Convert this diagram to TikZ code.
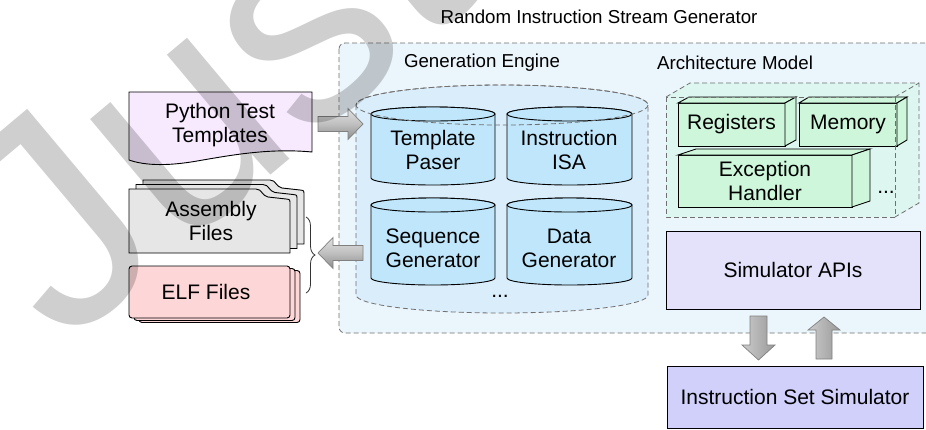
\documentclass[tikz,border=0pt]{standalone}
\usepackage{fontspec}
\setmainfont{Liberation Sans}
\usetikzlibrary{decorations.pathreplacing}
\definecolor{outerbg}{HTML}{EBF5FC}
\definecolor{genbg}{HTML}{DAEDFB}
\definecolor{cylcol}{HTML}{BFE6FA}
\definecolor{archbg}{HTML}{DDF6F0}
\definecolor{boxgreen}{HTML}{CDF6DA}
\definecolor{apifill}{HTML}{E4E2FA}
\definecolor{issfill}{HTML}{D0D0FB}
\definecolor{pyfill}{HTML}{F7EAFE}
\definecolor{asmfill}{HTML}{E6E6E6}
\definecolor{elffill}{HTML}{FDD6D7}
\definecolor{dashgray}{HTML}{707070}
\tikzset{
 lbl/.style={font=\fontsize{21}{24}\selectfont, align=center, inner sep=0pt},
 hdr/.style={font=\fontsize{18.7}{22}\selectfont, inner sep=0pt},
 solidbox/.style={draw=black, line width=0.9pt},
 dashbox/.style={draw=dashgray, dash pattern=on 5pt off 3pt, line width=0.8pt},
 cylsmall/.style={draw=black, line width=0.9pt, fill=cylcol},
 greenbox/.style={draw=black, line width=0.9pt, fill=boxgreen},
 harrow/.style={draw=black!50, line width=0.7pt, top color=black!12, bottom color=black!45, middle color=black!25},
 varrow/.style={draw=black!50, line width=0.7pt, left color=black!20, right color=black!40},
}
% cylinder: x1, x2, ytop, ybottom, ry, style
\newcommand\mycyl[6]{%
  \pgfmathsetmacro\cylcx{(#1+#2)/2}%
  \pgfmathsetmacro\cylrx{(#2-#1)/2}%
  \path[#6] (#1,#3+#5) -- (#1,#4-#5) arc[start angle=180,end angle=0,x radius=\cylrx,y radius=#5]
     -- (#2,#3+#5) arc[start angle=0,end angle=-180,x radius=\cylrx,y radius=#5] -- cycle;
  \path[#6] (\cylcx,#3+#5) ellipse[x radius=\cylrx,y radius=#5];
}
% 3d box: x1,y1,x2,y2,dx,dy,style
\newcommand\mybox[7]{%
  \path[#7] (#1,#2) rectangle (#3,#4);
  \path[#7] (#1,#2) -- (#1+#5,#2-#6) -- (#3+#5,#2-#6) -- (#3,#2) -- cycle;
  \path[#7] (#3,#2) -- (#3+#5,#2-#6) -- (#3+#5,#4-#6) -- (#3,#4) -- cycle;
}
\begin{document}
\begin{tikzpicture}[x=1pt,y=-1pt]
\useasboundingbox (0,0) rectangle (926,429);
\fill[white] (0,0) rectangle (926,429);

% outer container
\path[dashbox, fill=outerbg, rounded corners=6pt] (339,43) rectangle (945,333);
\node[hdr] (title) at (599,17) {Random Instruction Stream Generator};
\node[hdr] (genlbl) at (482,63) {Generation Engine};
\node[hdr] (archlbl) at (735,63) {Architecture Model};

% generation engine big cylinder
\path[dashbox, fill=genbg] (356,105) -- (356,295) arc[start angle=180,end angle=0,x radius=146,y radius=18]
   -- (648,105) arc[start angle=0,end angle=-180,x radius=146,y radius=20] -- cycle;

\mycyl{371}{495}{107}{185}{7}{cylsmall}
\mycyl{507}{632}{107}{185}{7}{cylsmall}
\mycyl{371}{495}{198}{285}{7}{cylsmall}
\mycyl{507}{632}{198}{285}{7}{cylsmall}
\path[dashbox] (502,105) ellipse[x radius=146,y radius=20];

\node[lbl] (tp) at (433,150) {Template\\Paser};
\node[lbl] (isa) at (569,150) {Instruction\\ISA};
\node[lbl] (seq) at (433,248) {Sequence\\Generator};
\node[lbl] (dat) at (569,248) {Data\\Generator};
\node[lbl, anchor=base] (gdots) at (500,297) {...};

% architecture model
\path[fill=archbg] (666,97) -- (690,83) -- (919,83) -- (919,203) -- (895,217) -- (666,217) -- cycle;
\mybox{678}{103}{785}{146}{11}{6}{greenbox}
\mybox{799}{103}{897}{146}{10}{6}{greenbox}
\mybox{678}{155}{852}{207}{18}{6}{greenbox}
\path[dashbox] (666,97) rectangle (895,217);
\path[dashbox] (666,97) -- (690,83) -- (919,83) -- (919,203) -- (895,217);
\path[dashbox] (895,97) -- (919,83);
\node[lbl] (reg) at (731.5,124.5) {Registers};
\node[lbl] (mem) at (848,124.5) {Memory};
\node[lbl] (exc) at (765,181) {Exception\\Handler};
\node[lbl, anchor=base] (adots) at (886,193) {...};

% simulator APIs and ISS
\node[solidbox, fill=apifill, minimum width=254pt, minimum height=78pt, lbl] (api) at (793,270) {Simulator APIs};
\node[solidbox, fill=issfill, minimum width=256pt, minimum height=62pt, lbl] (iss) at (795,397) {Instruction Set Simulator};

\path[varrow] (750,316) -- (767,316) -- (767,345) -- (775,345) -- (758.5,360) -- (742,345) -- (750,345) -- cycle;
\path[varrow] (824,317) -- (840,330) -- (832,330) -- (832,359) -- (816,359) -- (816,330) -- (808,330) -- cycle;

% python templates
\path[solidbox, fill=pyfill] (129,92) -- (312,92) -- (312,152) .. controls (270,148) and (232,155) .. (200,160.5) .. controls (170,166) and (146,166) .. (129,160) -- cycle;
\node[lbl] (py) at (220,125.5) {Python Test\\Templates};

% assembly files
\foreach \sx/\sy in {14/-9, 7/-4.5, 0/0}{
  \begin{scope}[shift={(\sx,\sy)}]
  \path[solidbox, fill=asmfill] (129,189) -- (256,189) .. controls (262,189) and (262,196) .. (268,197) -- (286,199) .. controls (290,199.5) .. (290,204) -- (290,253) -- (129,253) -- cycle;
  \end{scope}
}
\node[lbl] (asm) at (211,221) {Assembly\\Files};

% elf files
\foreach \sx/\sy in {10/4.5, 5/2.5, 0/0}{
  \path[solidbox, fill=elffill, rounded corners=3pt] (129+\sx,266+\sy) rectangle (290+\sx,318+\sy);
}
\node[lbl] (elf) at (206,292) {ELF Files};

% brace
\draw[decorate, decoration={brace, amplitude=9pt}, line width=0.8pt, draw=black!80] (306,217) -- (306,293);

% horizontal arrows
\path[harrow] (318,116.5) -- (348,116.5) -- (348,108.5) -- (363,124) -- (348,139.5) -- (348,131.5) -- (318,131.5) -- cycle;
\path[harrow] (318,253) -- (333,237.5) -- (333,245.5) -- (363,245.5) -- (363,260.5) -- (333,260.5) -- (333,268.5) -- cycle;

% watermark
\node[font=\fontsize{300}{300}\selectfont, text=black, opacity=0.19, rotate=40, anchor=base west, inner sep=0pt] (wm) at (62,350) {Just};
\end{tikzpicture}
\end{document}
